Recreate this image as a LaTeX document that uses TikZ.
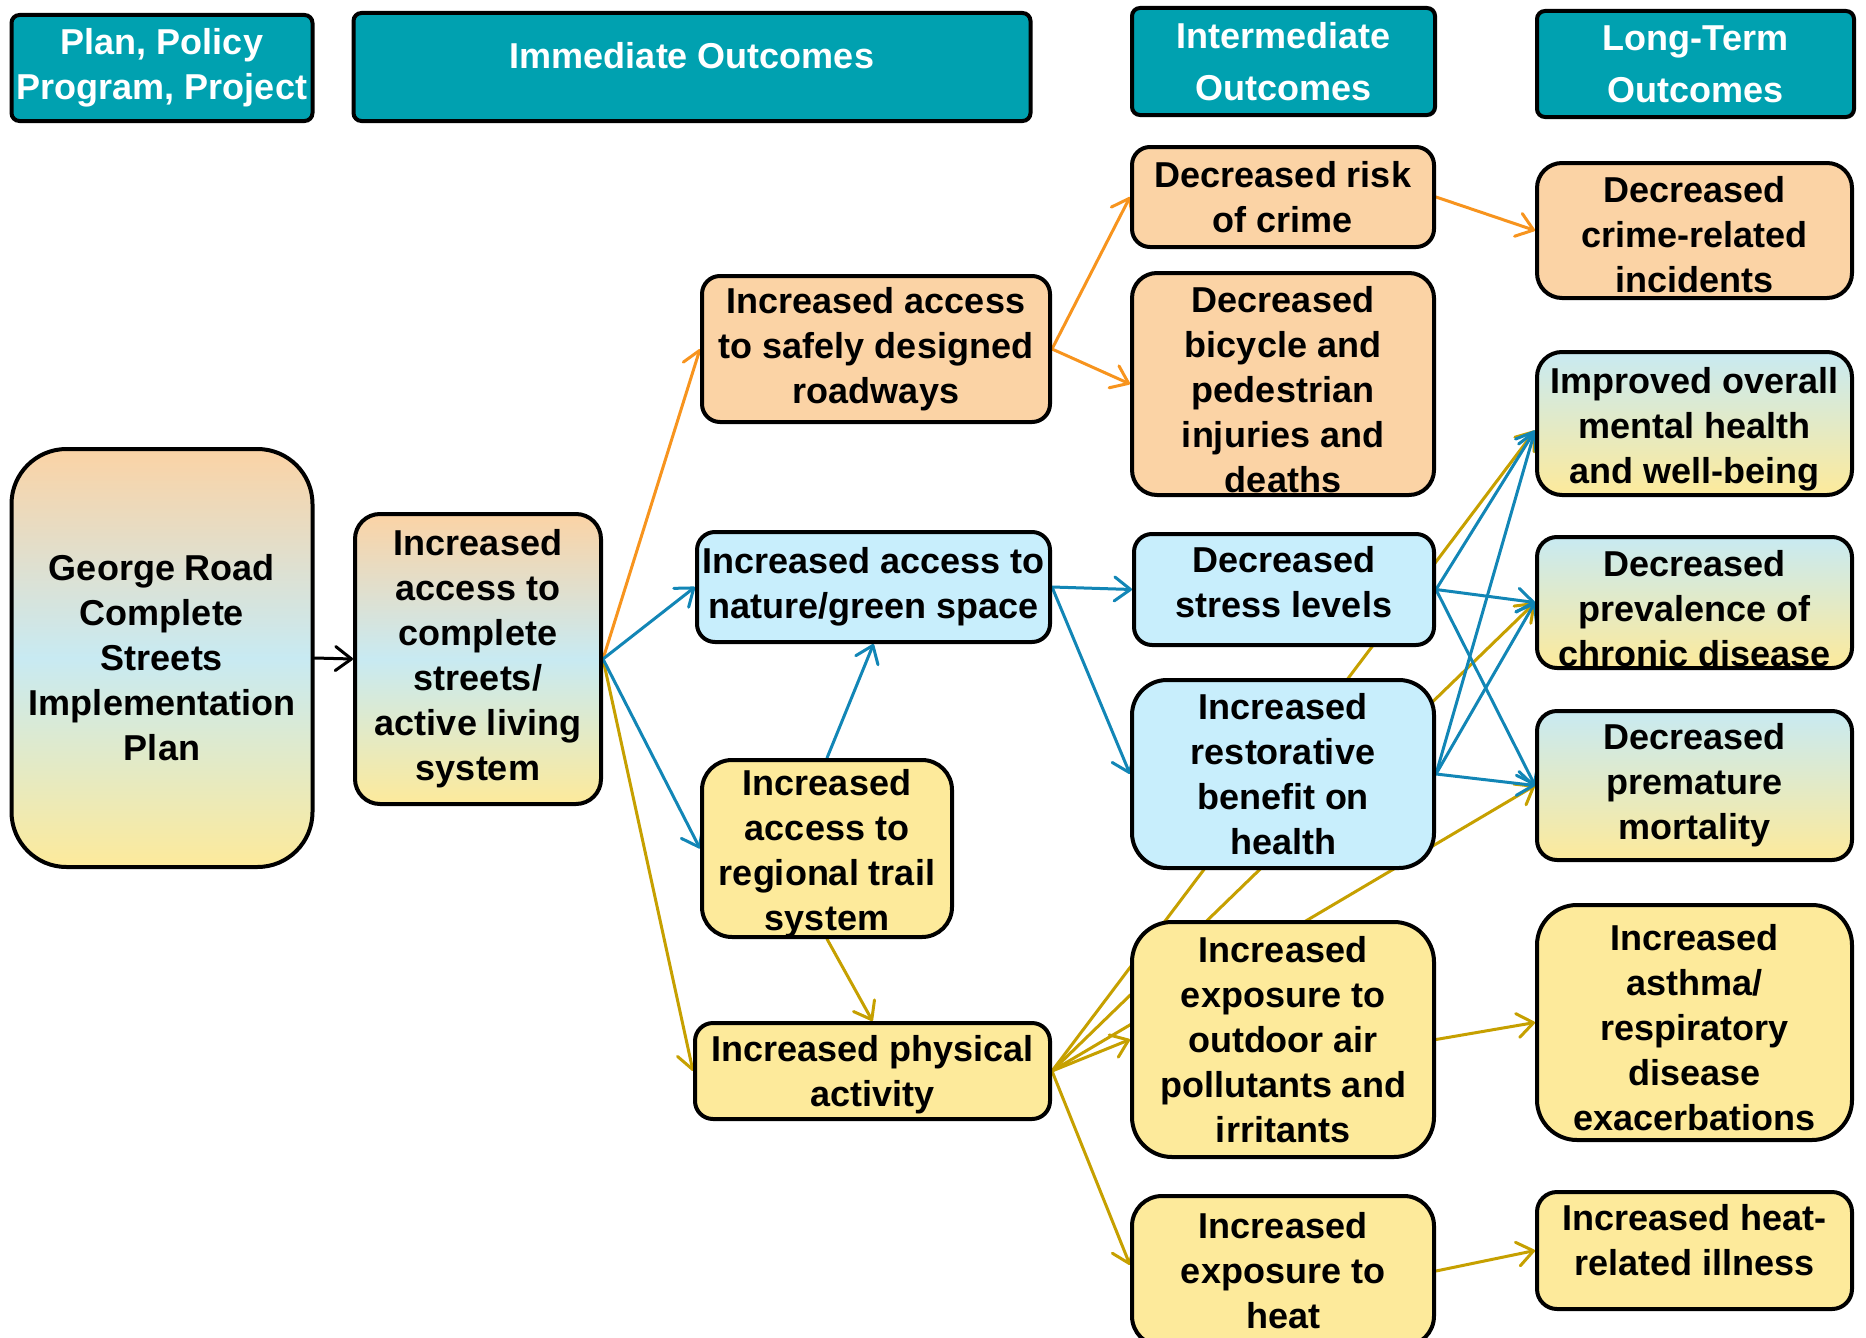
\documentclass[tikz,border=0pt]{standalone}
\usepackage{fontspec}
\setmainfont{Liberation Sans}
\usetikzlibrary{arrows.meta,backgrounds,calc}
\definecolor{teal1}{RGB}{0,161,176}
\definecolor{orfill}{RGB}{251,211,165}
\definecolor{blfill}{RGB}{200,238,252}
\definecolor{gbl}{RGB}{200,234,242}
\definecolor{yefill}{RGB}{253,234,155}
\definecolor{orline}{RGB}{247,148,30}
\definecolor{blline}{RGB}{18,134,182}
\definecolor{goline}{RGB}{198,160,0}
\begin{document}
\begin{tikzpicture}[x=1pt,y=-1pt,
  font=\fontsize{36pt}{45pt}\selectfont\bfseries,
  box/.style={draw=black, line width=4pt, rounded corners=18pt, align=center, inner sep=1pt},
  txt/.style={align=center, inner sep=0pt},
  hdr/.style={box, fill=teal1, text=white, rounded corners=8pt},
  orbox/.style={box, fill=orfill},
  blbox/.style={box, fill=blfill},
  yebox/.style={box, fill=yefill},
  tribox/.style={box, top color=orfill, bottom color=yefill, middle color=gbl},
  bybox/.style={box, top color=gbl, bottom color=yefill},
  conn/.style={line width=3pt, line cap=round, -{Straight Barb[length=16pt,width=24pt,line cap=round,line join=round]}},
  orc/.style={conn, draw=orline},
  blc/.style={conn, draw=blline},
  goc/.style={conn, draw=goline},
  bkc/.style={conn, draw=black}
]
\path[use as bounding box, clip] (0,0) rectangle (1866,1338);

% headers
\node[hdr, minimum width=301pt, minimum height=106pt] (plan) at (162,68) {Plan, Policy\\Program, Project};
\node[hdr, minimum width=677pt, minimum height=108pt] (immed) at (692,67) {};
\node[txt, text=white] (immedtxt) at (692,56) {Immediate Outcomes};
\node[hdr, minimum width=303pt, minimum height=107pt] (inter) at (1283.5,61.5) {Intermediate\\[7pt]Outcomes};
\node[hdr, minimum width=317pt, minimum height=106pt] (longt) at (1695.5,64) {Long-Term\\[7pt]Outcomes};

% column 1-2
\node[tribox, rounded corners=55pt, minimum width=301pt, minimum height=418pt] (george) at (162,658)
  {George Road\\Complete\\Streets\\Implementation\\Plan};
\node[tribox, rounded corners=25pt, minimum width=246pt, minimum height=290pt] (cs) at (478,659)
  {Increased\\access to\\complete\\streets/\\active living\\system};

% immediate
\node[orbox, minimum width=348pt, minimum height=146pt] (safe) at (876,349)
  {Increased access\\to safely designed\\roadways};
\node[blbox, minimum width=353pt, minimum height=110pt] (nature) at (873.5,587)
  {Increased access to\\nature/green space};
\node[yebox, rounded corners=30pt, minimum width=250pt, minimum height=177pt] (trail) at (827,848.5) {};
\node[txt] (trailt) at (827,853.5) {Increased\\access to\\regional trail\\system};
\node[yebox, minimum width=355pt, minimum height=96pt] (phys) at (872.5,1071) {};
\node[txt] (physt) at (872.5,1075) {Increased physical\\activity};

% intermediate
\node[orbox, minimum width=302pt, minimum height=100pt] (crime) at (1283,197)
  {Decreased risk\\of crime};
\node[orbox, rounded corners=25pt, minimum width=302pt, minimum height=222pt] (bike) at (1283,384) {};
\node[txt] (biket) at (1283,390) {Decreased\\bicycle and\\pedestrian\\injuries and\\deaths};
\node[blbox, minimum width=300pt, minimum height=111pt] (stress) at (1284,589.5) {};
\node[txt] (stresst) at (1284,582.5) {Decreased\\stress levels};
\node[blbox, rounded corners=35pt, minimum width=302pt, minimum height=188pt] (rest) at (1283,774)
  {Increased\\restorative\\benefit on\\health};
\node[yebox, rounded corners=40pt, minimum width=302pt, minimum height=235pt] (air) at (1283,1039.5)
  {Increased\\exposure to\\outdoor air\\pollutants and\\irritants};
\node[yebox, rounded corners=30pt, minimum width=302pt, minimum height=150pt] (heat) at (1283,1271)
  {Increased\\exposure to\\heat};

% long-term
\node[orbox, rounded corners=25pt, minimum width=315pt, minimum height=135pt] (crimeinc) at (1694.5,230.5) {};
\node[txt] (crimeinct) at (1694.5,234.5) {Decreased\\crime-related\\incidents};
\node[bybox, rounded corners=25pt, minimum width=315pt, minimum height=143pt] (mental) at (1694.5,423.5) {};
\node[txt] (mentalt) at (1694.5,429.5) {Improved overall\\mental health\\and well-being};
\node[bybox, rounded corners=20pt, minimum width=315pt, minimum height=131pt] (chronic) at (1694.5,602.5) {};
\node[txt] (chronict) at (1694.5,608.5) {Decreased\\prevalence of\\chronic disease};
\node[bybox, rounded corners=20pt, minimum width=315pt, minimum height=149pt] (mort) at (1694.5,785.5)
  {Decreased\\premature\\mortality};
\node[yebox, rounded corners=40pt, minimum width=315pt, minimum height=235pt] (asthma) at (1694.5,1022.5) {};
\node[txt] (asthmat) at (1694.5,1027.5) {Increased\\asthma/\\respiratory\\disease\\exacerbations};
\node[yebox, rounded corners=20pt, minimum width=315pt, minimum height=117pt] (heatill) at (1694.5,1250.5) {};
\node[txt] (heatillt) at (1694.5,1240.5) {Increased heat-\\related illness};

\coordinate (mentalin) at ($(mental.west)+(0,7)$);
\coordinate (heatin) at ($(heat.west)+(0,-6)$);

\begin{scope}[on background layer]
  % black
  \draw[bkc] (george.east) -- (cs.west);
  % orange
  \draw[orc] (cs.east) -- (safe.west);
  \draw[orc] (safe.east) -- (crime.west);
  \draw[orc] (safe.east) -- (bike.west);
  \draw[orc] (crime.east) -- (crimeinc.west);
  % gold
  \draw[goc] (cs.east) -- (phys.west);
  \draw[goc] (trail.south) -- (phys.north);
  \draw[goc] (phys.east) -- (mentalin);
  \draw[goc] (phys.east) -- (chronic.west);
  \draw[goc] (phys.east) -- (mort.west);
  \draw[goc] (phys.east) -- (air.west);
  \draw[goc] (phys.east) -- (heatin);
  \draw[goc] (air.east) -- (asthma.west);
  \draw[goc] (heat.east) -- (heatill.west);
  % blue
  \draw[blc] (cs.east) -- (nature.west);
  \draw[blc] (cs.east) -- (trail.west);
  \draw[blc] (trail.north) -- (nature.south);
  \draw[blc] (nature.east) -- (stress.west);
  \draw[blc] (nature.east) -- (rest.west);
  \draw[blc] (stress.east) -- (mentalin);
  \draw[blc] (stress.east) -- (chronic.west);
  \draw[blc] (stress.east) -- (mort.west);
  \draw[blc] (rest.east) -- (mentalin);
  \draw[blc] (rest.east) -- (chronic.west);
  \draw[blc] (rest.east) -- (mort.west);
\end{scope}
\end{tikzpicture}
\end{document}
